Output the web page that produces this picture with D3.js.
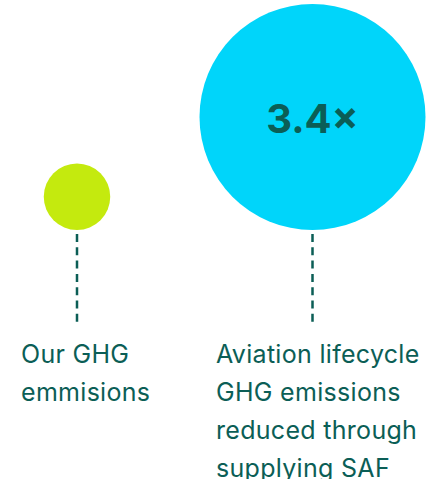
<!DOCTYPE html>
<html><head><meta charset="utf-8">
<script src="https://cdn.jsdelivr.net/npm/d3@7"></script>
<style>html,body{margin:0;padding:0;background:#fff;}svg{display:block;}</style>
</head><body>
<script>
const categories = ["Our GHG emmisions", "Aviation lifecycle GHG emissions reduced through supplying SAF"];
const labelLines = [["Our GHG", "emmisions"], ["Aviation lifecycle", "GHG emissions", "reduced through", "supplying SAF"]];
const values = [1, 3.4];
const valueLabels = ["", "3.4×"];
const colors = ["#c4ea0e", "#00d5fa"];

const W = 445, H = 479;
const textColor = "#0b5e56";
const svg = d3.select("body").append("svg").attr("width", W).attr("height", H);

const x = d3.scalePoint().domain(categories).range([77, 312.5]);
const r = d3.scaleLinear().domain([0, 3.4]).range([0, 113]);
const bottom = 230;
const lineEnd = 322;

const g = svg.selectAll("g.item").data(categories).join("g").attr("class", "item");

g.append("circle")
  .attr("cx", d => x(d))
  .attr("cy", (d, i) => bottom - r(values[i]))
  .attr("r", (d, i) => r(values[i]))
  .attr("fill", (d, i) => colors[i]);

g.append("line")
  .attr("x1", d => x(d)).attr("x2", d => x(d))
  .attr("y1", bottom + 4).attr("y2", lineEnd)
  .attr("stroke", textColor).attr("stroke-width", 2.5)
  .attr("stroke-dasharray", "8,5.3");

g.append("text")
  .attr("x", d => x(d))
  .attr("y", (d, i) => bottom - r(values[i]) + 16)
  .attr("text-anchor", "middle")
  .attr("font-family", "Inter, sans-serif")
  .attr("font-weight", 700)
  .attr("font-size", 40)
  .attr("fill", textColor)
  .text((d, i) => valueLabels[i]);

const labelX = [21, 216];
g.append("text")
  .attr("font-family", "Inter, sans-serif")
  .attr("font-size", 25)
  .attr("letter-spacing", 0.3)
  .attr("fill", textColor)
  .selectAll("tspan").data((d, i) => labelLines[i].map(t => ({t, i})))
  .join("tspan")
  .attr("x", d => labelX[d.i])
  .attr("y", (d, j) => 363 + j * 38)
  .text(d => d.t);
</script>
</body></html>
